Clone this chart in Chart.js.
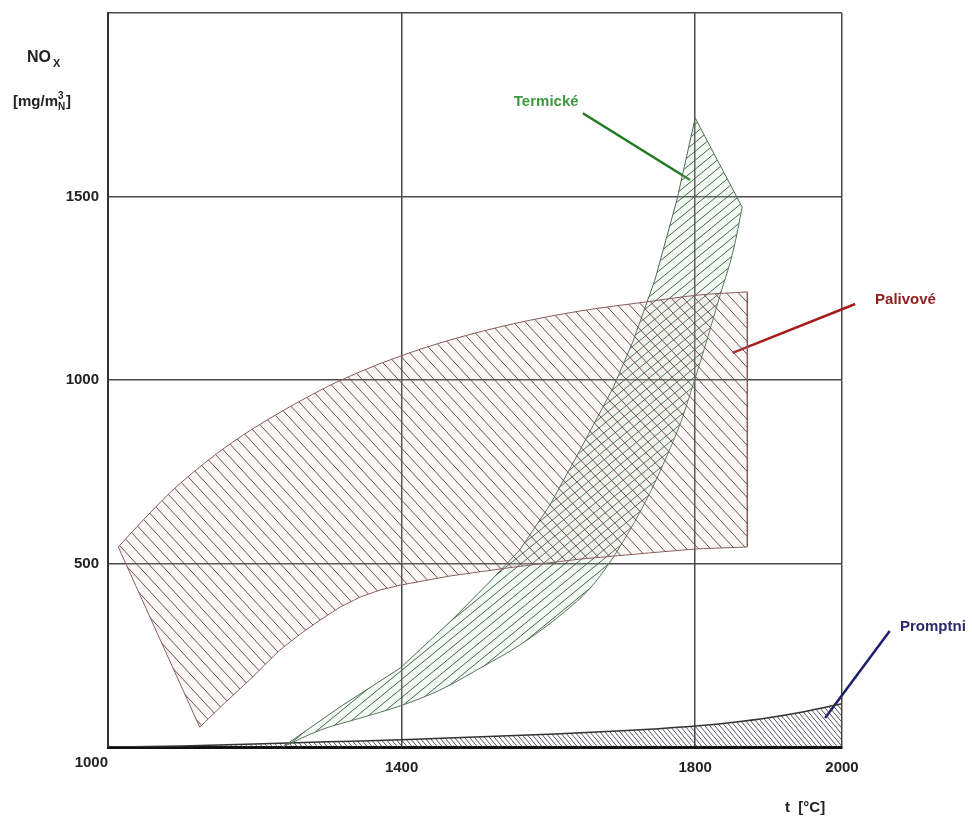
<!DOCTYPE html>
<html>
<head>
<meta charset="utf-8">
<script src="https://cdn.jsdelivr.net/npm/chart.js@4.4.0/dist/chart.umd.min.js"></script>
<style>
  html, body { margin: 0; padding: 0; background: #fff; }
  #wrap { width: 972px; height: 818px; }
</style>
</head>
<body>
<div id="wrap"><canvas id="chart" width="972" height="818"></canvas></div>
<script>
// axis ticks
const xTicks = [1000, 1400, 1800, 2000];
const yTicks = [0, 500, 1000, 1500, 2000];
const xLabelValues = [1000, 1400, 1800, 2000];
const yLabelValues = [500, 1000, 1500];

// Palivové (fuel NOx) band
const palTopT = [1014, 1044, 1084, 1125, 1170, 1221, 1298, 1343, 1398, 1466, 1552, 1643, 1734, 1807, 1871];
const palTopV = [545, 610, 692, 763, 831, 896, 981, 1022, 1065, 1109, 1153, 1188, 1213, 1232, 1240];
const palLowT = [1014, 1125, 1159, 1193, 1234, 1262, 1289, 1316, 1344, 1371, 1398, 1466, 1552, 1643, 1738, 1803, 1871];
const palLowV = [545, 54, 120, 183, 264, 308, 346, 381, 409, 428, 441, 466, 490, 512, 529, 540, 545];

// Termické (thermal NOx) band
const terUpT = [1238, 1316, 1398, 1466, 1520, 1561, 1602, 1643, 1688, 1715, 1745, 1775, 1800, 1864];
const terUpV = [0, 109, 215, 341, 450, 537, 659, 809, 978, 1104, 1272, 1490, 1714, 1471];
const terLowT = [1238, 1289, 1344, 1398, 1452, 1507, 1561, 1620, 1657, 1684, 1711, 1739, 1762, 1780, 1797, 1816, 1834, 1852, 1864];
const terLowV = [0, 46, 79, 112, 155, 215, 278, 365, 433, 504, 591, 695, 796, 883, 986, 1109, 1232, 1354, 1471];

// Promptní NOx
const proT = [1000, 1100, 1200, 1300, 1400, 1500, 1600, 1700, 1750, 1800, 1850, 1900, 1950, 2000];
const proV = [0, 3, 8, 14, 20, 27, 35, 44, 50, 57, 67, 80, 97, 118];

// leader lines for labels
const terLeadT = [1647, 1793];
const terLeadV = [1727, 1545];
const palLeadT = [2018, 1851];
const palLeadV = [1207, 1074];
const proLeadT = [2065, 1977];
const proLeadV = [316, 79];

const labels = [
  { text: "Termické", t: 1597, v: 1757, align: "center", color: "#3c9a3c" },
  { text: "Palivové", t: 2045, v: 1218, align: "left", color: "#8e1f1f" },
  { text: "Promptni", t: 2079, v: 327, align: "left", color: "#2b2b6b" }
];

function pts(ts, vs) {
  return ts.map((t, i) => ({ x: t, y: vs[i] }));
}

function hatch(w, h, dir, lineColor, bg, lw) {
  const c = document.createElement("canvas");
  c.width = w;
  c.height = h;
  const g = c.getContext("2d");
  g.fillStyle = bg;
  g.fillRect(0, 0, w, h);
  g.strokeStyle = lineColor;
  g.lineWidth = lw;
  g.beginPath();
  for (let k = -1; k <= 1; k++) {
    if (dir === "\\") {
      g.moveTo(k * w - w, -h);
      g.lineTo(k * w + 2 * w, 2 * h);
    } else {
      g.moveTo(k * w - w, 2 * h);
      g.lineTo(k * w + 2 * w, -h);
    }
  }
  g.stroke();
  return g.createPattern(c, "repeat");
}

const palPattern = hatch(12, 13, "\\", "rgba(95,75,75,0.95)", "rgba(235,190,190,0.13)", 1);
const terPattern = hatch(11, 9, "/", "rgba(65,95,70,0.95)", "rgba(190,225,190,0.18)", 1);
const proPattern = hatch(5, 6, "\\", "rgba(60,60,70,0.85)", "rgba(255,255,255,0)", 1);

const base = { pointRadius: 0, pointHoverRadius: 0, tension: 0, showLine: true };
// curves without corners get monotone smoothing
const smooth = { cubicInterpolationMode: "monotone" };

const textPlugin = {
  id: "texts",
  afterDraw(chart) {
    const ctx = chart.ctx;
    const xs = chart.scales.x;
    const ys = chart.scales.y;
    const font = 'bold 15px "Liberation Sans", Arial, sans-serif';
    ctx.save();
    ctx.font = font;
    ctx.fillStyle = "#222";
    ctx.textBaseline = "middle";

    ctx.textAlign = "right";
    yLabelValues.forEach((v) => {
      ctx.fillText(String(v), xs.left - 9, ys.getPixelForValue(v));
    });

    xLabelValues.forEach((v) => {
      if (v === xs.min) {
        ctx.textAlign = "right";
        ctx.fillText(String(v), xs.getPixelForValue(v), ys.bottom + 16);
      } else {
        ctx.textAlign = "center";
        ctx.fillText(String(v), xs.getPixelForValue(v), ys.bottom + 21);
      }
    });

    // axis titles
    ctx.textAlign = "left";
    ctx.font = 'bold 16px "Liberation Sans", Arial, sans-serif';
    ctx.fillText("NO", 27, 58);
    ctx.font = 'bold 11px "Liberation Sans", Arial, sans-serif';
    ctx.fillText("X", 53, 64);

    ctx.font = 'bold 15px "Liberation Sans", Arial, sans-serif';
    ctx.fillText("[mg/m", 13, 102);
    let w = ctx.measureText("[mg/m").width;
    ctx.font = 'bold 10px "Liberation Sans", Arial, sans-serif';
    ctx.fillText("3", 13 + w, 96);
    ctx.fillText("N", 13 + w, 107);
    ctx.font = 'bold 15px "Liberation Sans", Arial, sans-serif';
    ctx.fillText("]", 13 + w + 8, 102);

    ctx.fillText("t  [°C]", 785, 808);

    labels.forEach((l) => {
      ctx.fillStyle = l.color;
      ctx.textAlign = l.align;
      ctx.fillText(l.text, xs.getPixelForValue(l.t), ys.getPixelForValue(l.v));
    });
    ctx.restore();
  }
};

new Chart(document.getElementById("chart"), {
  type: "line",
  data: {
    datasets: [
      Object.assign({}, base, smooth, {
        label: "Palivové",
        data: pts(palTopT, palTopV),
        borderColor: "#8a5a5a",
        borderWidth: 1,
        backgroundColor: palPattern,
        fill: 1
      }),
      Object.assign({}, base, {
        label: "Palivové dolní",
        data: pts(palLowT, palLowV),
        borderColor: "#8a5a5a",
        borderWidth: 1,
        fill: false
      }),
      Object.assign({}, base, {
        label: "Palivové okraj",
        data: pts([palTopT[palTopT.length - 1], palLowT[palLowT.length - 1]],
                  [palTopV[palTopV.length - 1], palLowV[palLowV.length - 1]]),
        borderColor: "#8a5a5a",
        borderWidth: 1,
        fill: false
      }),
      Object.assign({}, base, {
        label: "Termické",
        data: pts(terUpT, terUpV),
        borderColor: "#4f6c52",
        borderWidth: 1,
        backgroundColor: terPattern,
        fill: 4
      }),
      Object.assign({}, base, smooth, {
        label: "Termické dolní",
        data: pts(terLowT, terLowV),
        borderColor: "#4f6c52",
        borderWidth: 1,
        fill: false
      }),
      Object.assign({}, base, smooth, {
        label: "Promptní",
        data: pts(proT, proV),
        borderColor: "#333",
        borderWidth: 1.5,
        backgroundColor: proPattern,
        fill: "origin"
      }),
      Object.assign({}, base, {
        label: "lead T",
        data: pts(terLeadT, terLeadV),
        borderColor: "#1f7a22",
        borderWidth: 2.5,
        fill: false,
        clip: false
      }),
      Object.assign({}, base, {
        label: "lead P",
        data: pts(palLeadT, palLeadV),
        borderColor: "#a51c1c",
        borderWidth: 2.5,
        fill: false,
        clip: false
      }),
      Object.assign({}, base, {
        label: "lead Pr",
        data: pts(proLeadT, proLeadV),
        borderColor: "#1e1e6e",
        borderWidth: 2.5,
        fill: false,
        clip: false
      })
    ]
  },
  options: {
    responsive: false,
    animation: false,
    layout: { padding: { left: 108, right: 130, top: 13, bottom: 71 } },
    plugins: {
      legend: { display: false },
      tooltip: { enabled: false }
    },
    events: [],
    scales: {
      x: {
        type: "linear",
        min: 1000,
        max: 2000,
        afterBuildTicks: (scale) => { scale.ticks = xTicks.map((v) => ({ value: v })); },
        ticks: { display: false },
        grid: { color: "#4a4a4a", lineWidth: 1.5, drawTicks: false },
        border: { display: true, color: "#111", width: 3 }
      },
      y: {
        type: "linear",
        min: 0,
        max: 2000,
        afterBuildTicks: (scale) => { scale.ticks = yTicks.map((v) => ({ value: v })); },
        ticks: { display: false },
        grid: { color: "#4a4a4a", lineWidth: 1.5, drawTicks: false },
        border: { display: true, color: "#333", width: 2 }
      }
    }
  },
  plugins: [textPlugin]
});
</script>
</body>
</html>
